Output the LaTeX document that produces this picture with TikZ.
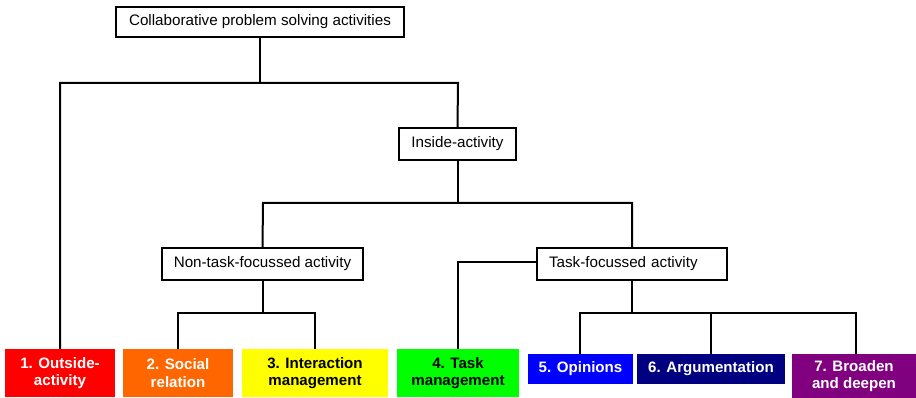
\documentclass[tikz,border=0pt]{standalone}
\usepackage{fontspec}
\setmainfont{Liberation Sans}
\begin{document}
\begin{tikzpicture}[x=1pt,y=-1pt,
  link/.style={line width=2pt},
  catbox/.style={draw=black,line width=1.8pt,fill=white,inner sep=0pt,
    text height=11pt,text depth=3pt,
    font=\fontsize{15.2}{18}\selectfont},
  leafbox/.style={inner sep=0pt,align=center,
    font=\fontsize{15.1}{17.7}\selectfont\bfseries}]
\useasboundingbox (0,0) rectangle (916,398);
% category boxes
\node[catbox,minimum width=288pt,minimum height=30pt] (top) at (260,22) {Collaborative problem solving activities};
\node[catbox,minimum width=117pt,minimum height=32pt] (ins) at (457.5,144) {Inside-activity};
\node[catbox,minimum width=201pt,minimum height=32pt] (non) at (262.5,264) {Non-task-focussed activity};
\node[catbox,minimum width=190pt,minimum height=32pt,text width=166pt,inner xsep=12pt,align=left] (task) at (632,264) {Task-focussed activity};
% leaf categories
\node[leafbox,fill={rgb,255:red,255;green,0;blue,0},text=white,minimum width=110pt,minimum height=48pt] (b1) at (60,373) {1. Outside-\\activity};
\node[leafbox,fill={rgb,255:red,255;green,102;blue,0},text=white,minimum width=110pt,minimum height=48pt] (b2) at (178,373) {2. Social\\relation};
\node[leafbox,fill={rgb,255:red,255;green,255;blue,0},text=black,minimum width=146pt,minimum height=48pt] (b3) at (315,373) {3. Interaction\\management};
\node[leafbox,fill={rgb,255:red,0;green,255;blue,0},text=black,minimum width=122pt,minimum height=48pt] (b4) at (458,373) {4. Task\\management};
\node[leafbox,fill={rgb,255:red,0;green,0;blue,255},text=white,minimum width=105pt,minimum height=30pt] (b5) at (580.5,369) {5. Opinions};
\node[leafbox,fill={rgb,255:red,0;green,0;blue,128},text=white,minimum width=148pt,minimum height=30pt] (b6) at (711,369) {6. Argumentation};
\node[leafbox,fill={rgb,255:red,128;green,0;blue,128},text=white,minimum width=124pt,minimum height=44pt] (b7) at (854,376) {7. Broaden\\and deepen};
% junction points
\coordinate (h1) at (60,83);
\coordinate (h2) at (458,83);
\coordinate (h3) at (263,203);
\coordinate (h4) at (632,203);
\coordinate (h5) at (178,313);
\coordinate (h6) at (315,313);
\coordinate (h7) at (580,313);
\coordinate (h8) at (856,313);
\coordinate (h9) at (458,262);
% connectors
\draw[link] (top.south) -- (top.south |- h1);
\draw[link] (b1.north) -- (h1) -- (h2) -- (ins.north);
\draw[link] (ins.south) -- (ins.south |- h3);
\draw[link] (non.north) -- (h3) -- (h4) -- (task.north);
\draw[link] (non.south) -- (non.south |- h5);
\draw[link] (b2.north) -- (h5) -- (h6) -- (b3.north);
\draw[link] (task.west |- h9) -- (h9) -- (b4.north);
\draw[link] (task.south) -- (task.south |- h7);
\draw[link] (b5.north -| h7) -- (h7) -- (h8) -- (b7.north -| h8);
\draw[link] (b6.north) -- (b6.north |- h7);
\end{tikzpicture}
\end{document}
